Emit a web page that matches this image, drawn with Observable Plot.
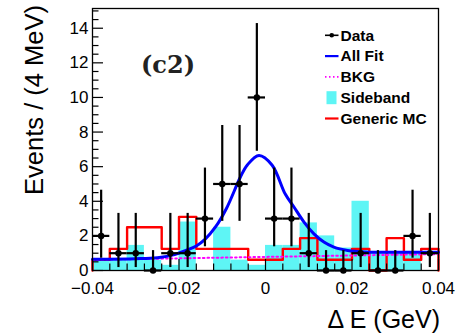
<!DOCTYPE html>
<html>
<head>
<meta charset="utf-8">
<script src="https://cdn.jsdelivr.net/npm/d3@7"></script>
<script src="https://cdn.jsdelivr.net/npm/@observablehq/plot@0.6"></script>
<style>
  html, body { margin: 0; padding: 0; background: #fff; }
  svg { display: block; }
</style>
</head>
<body>
<div id="chart"></div>
<script>
// ---- data ----
const binCenters = [-0.038,-0.034,-0.030,-0.026,-0.022,-0.018,-0.014,-0.010,-0.006,-0.002,
                     0.002, 0.006, 0.010, 0.014, 0.018, 0.022, 0.026, 0.030, 0.034, 0.038];
const binHalfWidth = 0.002;
const dataCounts = [2,1,1,0,1,1,3,5,5,10,3,3,1,0,0,1,0,0,2,1];
const errLow  = [1.29,0.83,0.83,0,0.83,0.83,1.63,2.16,2.16,3.11,1.63,1.63,0.83,0,0,0.83,0,0,1.29,0.83];
const errHigh = [2.64,2.30,2.30,1.15,2.30,2.30,2.92,3.38,3.38,4.27,2.92,2.92,2.30,1.15,1.15,2.30,1.15,1.15,2.64,2.30];
const sideband = [0.6,0.6,1.45,0.6,0.3,2.8,0,2.5,0.6,0.3,1.45,1.45,2.75,2.0,1.3,4.0,1.1,1.1,1.1,0];
const genericMC = [0.62,1.25,2.5,2.5,1.25,3.1,1.25,1.25,1.25,0.62,0.62,1.25,1.87,0.62,0.62,1.25,0,1.87,0.62,1.25];
const fitX = [-0.04,-0.03,-0.025,-0.021,-0.0185,-0.016,-0.014,-0.0116,-0.009,-0.0058,-0.0042,-0.0015,0.0015,0.0046,0.0065,0.0089,0.0112,0.0135,0.0158,0.019,0.023,0.03,0.04];
const fitY = [0.65,0.68,0.74,0.92,1.15,1.42,1.8,2.5,3.6,5.4,6.1,6.65,6.1,4.4,3.7,2.8,2.12,1.64,1.35,1.16,1.07,1.05,1.06];
const bkgX = [-0.04, 0.04];
const bkgY = [0.62, 0.95];
const xTickValues = [-0.04,-0.02,0,0.02,0.04];
const xTickLabels = ["\u22120.04","\u22120.02","0","0.02","0.04"];
const yTickValues = [0,2,4,6,8,10,12,14];
const yTickLabels = ["0","2","4","6","8","10","12","14"];
const xMinorStep = 0.004;
const yMinorStep = 0.5;
const legendLabels = ["Data","All Fit","BKG","Sideband","Generic MC"];
const panelLabel = "(c2)";
const xTitle = "\u0394 E (GeV)";
const yTitle = "Events / (4 MeV)";

// ---- build tables ----
const xDomain = [-0.04, 0.04];
const yDomain = [0, 15.14];
const W = 473, H = 334, mL = 92, mR = 35, mT = 8, mB = 64;
const pxPerX = (W - mL - mR) / (xDomain[1] - xDomain[0]);
const pxPerY = (H - mT - mB) / (yDomain[1] - yDomain[0]);

const rows = binCenters.map((c, i) => ({
  x: c, x1: c - binHalfWidth, x2: c + binHalfWidth,
  n: dataCounts[i], lo: dataCounts[i] - errLow[i], hi: dataCounts[i] + errHigh[i],
  sb: sideband[i], mc: genericMC[i]
}));
const mcStep = [{x: xDomain[0], y: 0}];
rows.forEach(r => { mcStep.push({x: r.x1, y: r.mc}); mcStep.push({x: r.x2, y: r.mc}); });
mcStep.push({x: xDomain[1], y: 0});
const fit = fitX.map((x, i) => ({x, y: fitY[i]}));
const bkg = bkgX.map((x, i) => ({x, y: bkgY[i]}));

const yMinor = d3.range(0, yDomain[1] + 1e-9, yMinorStep);
const xMinor = d3.range(xDomain[0], xDomain[1] + 1e-9, xMinorStep).map(v => +v.toFixed(4));
const isMajorY = v => yTickValues.some(t => Math.abs(t - v) < 1e-6);
const isMajorX = v => xTickValues.some(t => Math.abs(t - v) < 1e-6);

const svg = Plot.plot({
  width: W, height: H,
  marginLeft: mL, marginRight: mR, marginTop: mT, marginBottom: mB,
  x: {domain: xDomain, axis: null},
  y: {domain: yDomain, axis: null},
  style: {background: "white", color: "black", fontFamily: "'Liberation Sans', Arial, Helvetica, sans-serif"},
  marks: [
    Plot.rectY(rows, {x1: "x1", x2: "x2", y: "sb", fill: "#5ef5f5"}),
    Plot.line(mcStep, {x: "x", y: "y", stroke: "#ff0000", strokeWidth: 2.4}),
    Plot.line(bkg, {x: "x", y: "y", stroke: "#ff00ff", strokeWidth: 2, strokeDasharray: "1.6,3"}),
    Plot.line(fit, {x: "x", y: "y", stroke: "#0000ff", strokeWidth: 3, curve: "catmull-rom"}),
    Plot.ruleX(rows, {x: "x", y1: "lo", y2: "hi", stroke: "black", strokeWidth: 2.2}),
    Plot.ruleY(rows, {y: "n", x1: "x1", x2: "x2", stroke: "black", strokeWidth: 2.2}),
    Plot.dot(rows, {x: "x", y: "n", r: 3.2, fill: "black"}),
    // tick marks (inward)
    Plot.ruleY(yMinor, {y: d => d, x1: xDomain[0], x2: d => xDomain[0] + (isMajorY(d) ? 11 : 6.5) / pxPerX, stroke: "black", strokeWidth: 1.2}),
    Plot.ruleX(xMinor, {x: d => d, y1: yDomain[0], y2: d => (isMajorX(d) ? 11 : 6.5) / pxPerY, stroke: "black", strokeWidth: 1.2}),
    Plot.frame({stroke: "black", strokeWidth: 1.3}),
    Plot.axisY({ticks: yTickValues, tickSize: 0, tickPadding: 4, fontSize: 17, label: null,
      tickFormat: d => yTickLabels[yTickValues.indexOf(d)]}),
    Plot.axisX({ticks: xTickValues, tickSize: 0, tickPadding: 11, fontSize: 17, label: null,
      tickFormat: d => xTickLabels[xTickValues.indexOf(d)]})
  ]
});

const s = d3.select(svg);
// axis titles
s.append("text").attr("x", 440).attr("y", 328).attr("text-anchor", "end")
  .attr("font-size", 25).attr("fill", "black").text(xTitle);
s.append("text").attr("transform", "translate(43,5) rotate(-90)").attr("text-anchor", "end")
  .attr("font-size", 25.5).attr("fill", "black").text(yTitle);
// panel label
s.append("text").attr("x", 141).attr("y", 73).attr("text-anchor", "start").attr("font-family", "'DejaVu Serif', serif")
  .attr("font-weight", "bold").attr("font-size", 24).attr("fill", "#222").text(panelLabel);

// legend
const lg = s.append("g").attr("font-weight", "bold").attr("font-size", 15.5).attr("text-anchor", "start");
const base0 = 40.6, step = 20.8, iconX0 = 325, iconX1 = 338.5, textX = 340.5;
legendLabels.forEach((lab, i) => {
  const b = base0 + i * step, cy = b - 5.3;
  if (i === 0) {
    lg.append("line").attr("x1", iconX0).attr("x2", iconX1).attr("y1", cy).attr("y2", cy).attr("stroke", "black").attr("stroke-width", 1.6);
    lg.append("circle").attr("cx", (iconX0 + iconX1) / 2).attr("cy", cy).attr("r", 2.3).attr("fill", "black");
  } else if (i === 1) {
    lg.append("line").attr("x1", iconX0).attr("x2", iconX1).attr("y1", cy).attr("y2", cy).attr("stroke", "#0000ff").attr("stroke-width", 2.2);
  } else if (i === 2) {
    lg.append("line").attr("x1", iconX0).attr("x2", iconX1).attr("y1", cy).attr("y2", cy).attr("stroke", "#ff00ff").attr("stroke-width", 1.6).attr("stroke-dasharray", "1.5,2.5");
  } else if (i === 3) {
    lg.append("rect").attr("x", 326.5).attr("y", cy - 6.5).attr("width", 10).attr("height", 13).attr("fill", "#5ef5f5");
  } else {
    lg.append("line").attr("x1", iconX0).attr("x2", iconX1).attr("y1", cy).attr("y2", cy).attr("stroke", "#ff0000").attr("stroke-width", 2.2);
  }
  lg.append("text").attr("x", textX).attr("y", b).attr("fill", "black").text(lab);
});

document.getElementById("chart").appendChild(svg);
</script>
</body>
</html>
